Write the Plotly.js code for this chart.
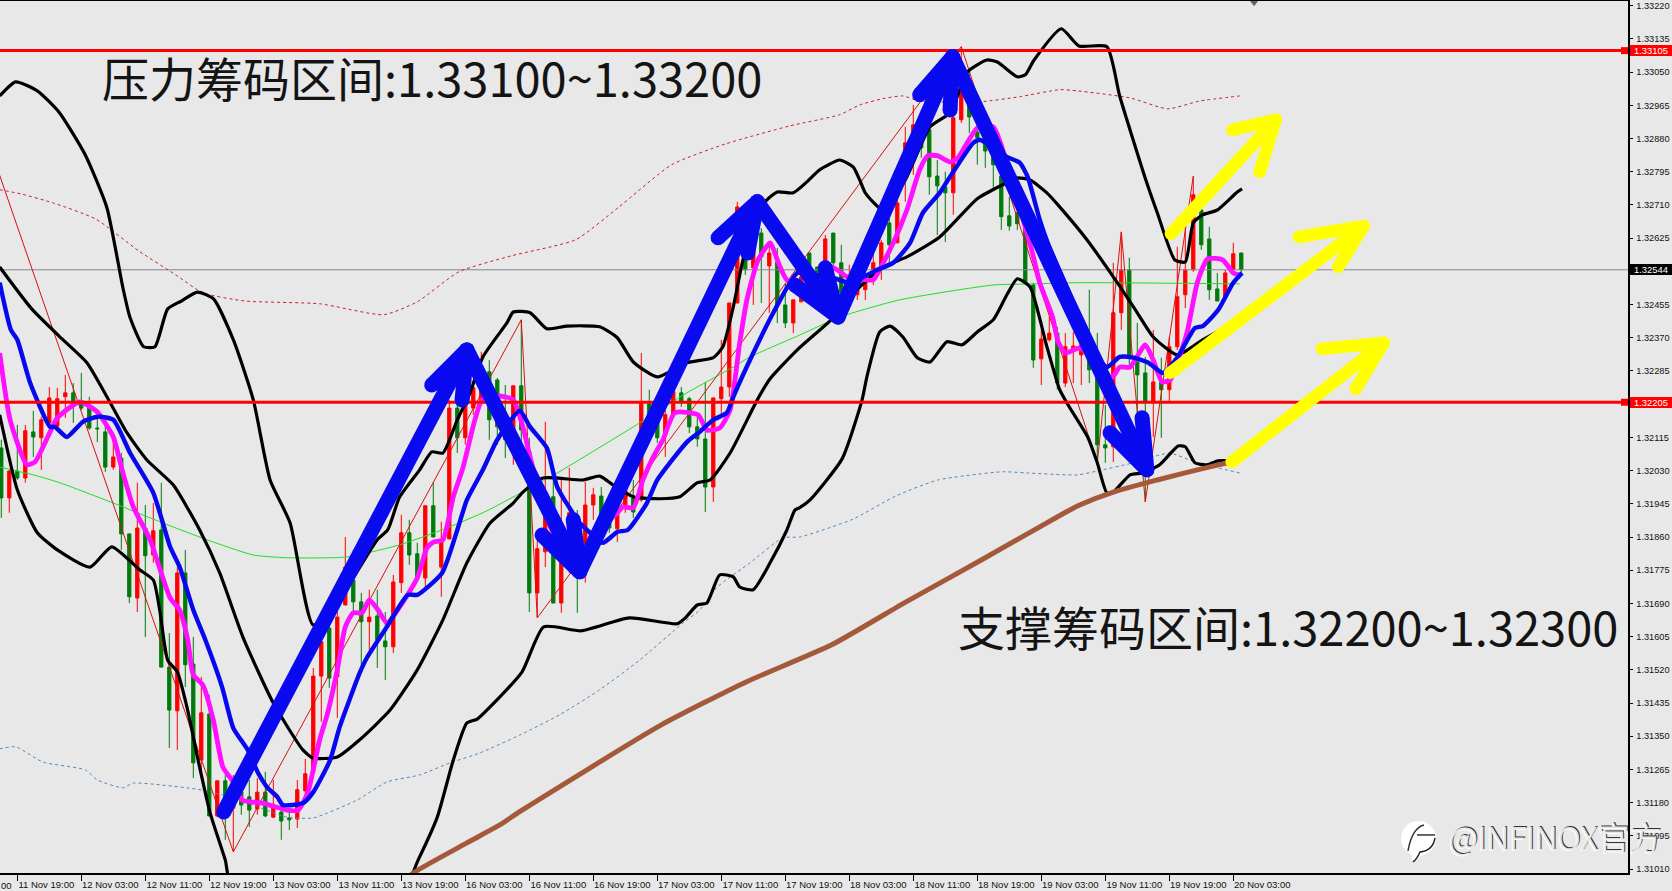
<!DOCTYPE html>
<html><head><meta charset="utf-8">
<script src="https://cdn.plot.ly/plotly-3.0.1.min.js"></script>
<style>html,body{margin:0;padding:0;background:#e8e8e8}#c{width:1672px;height:891px}</style>
</head><body><div id="c"></div><script>
const opens=[1.32088,1.31960,1.32029,1.32011,1.32129,1.32114,1.32152,1.32144,1.32219,1.32229,1.32203,1.32190,1.32139,1.32129,1.32039,1.32062,1.31868,1.31704,1.31883,1.31814,1.31878,1.31527,1.31415,1.31768,1.31535,1.31289,1.31407,1.31146,1.31236,1.31166,1.31207,1.31195,1.31164,1.31207,1.31143,1.31156,1.31141,1.31138,1.31210,1.31259,1.31504,1.31627,1.31502,1.31686,1.31750,1.31694,1.31643,1.31658,1.31594,1.31579,1.31743,1.31871,1.31817,1.31755,1.31940,1.31783,1.31855,1.32190,1.32114,1.32190,1.32211,1.32283,1.32262,1.32147,1.32134,1.32247,1.32078,1.31717,1.31822,1.31963,1.31691,1.31801,1.31912,1.31840,1.31942,1.31965,1.31922,1.31881,1.31937,1.31960,1.31955,1.32201,1.32160,1.32121,1.32173,1.32229,1.32214,1.32142,1.32111,1.31988,1.32214,1.32244,1.32459,1.32646,1.32549,1.32638,1.32554,1.32564,1.32454,1.32408,1.32462,1.32587,1.32551,1.32557,1.32638,1.32562,1.32475,1.32480,1.32493,1.32544,1.32549,1.32664,1.32613,1.32782,1.32877,1.32902,1.32902,1.32784,1.32756,1.32741,1.32928,1.33022,1.32897,1.32869,1.32859,1.32784,1.32682,1.32690,1.32654,1.32505,1.32316,1.32365,1.32382,1.32254,1.32336,1.32326,1.32365,1.32288,1.32096,1.32091,1.32434,1.32544,1.32308,1.32280,1.32206,1.32257,1.32237,1.32347,1.32480,1.32544,1.32697,1.32623,1.32495,1.32475,1.32544,1.32587];
const highs=[1.32109,1.32032,1.32147,1.32147,1.32183,1.32168,1.32244,1.32242,1.32275,1.32254,1.32280,1.32219,1.32173,1.32160,1.32116,1.32075,1.31868,1.31999,1.31942,1.31947,1.31999,1.31614,1.31783,1.31827,1.31604,1.31502,1.31456,1.31236,1.31251,1.31251,1.31259,1.31238,1.31243,1.31259,1.31238,1.31179,1.31161,1.31238,1.31292,1.31525,1.31609,1.31648,1.31745,1.31860,1.31827,1.31717,1.31725,1.31725,1.31668,1.31763,1.31917,1.31904,1.31845,1.31940,1.31999,1.31899,1.32211,1.32211,1.32229,1.32262,1.32334,1.32313,1.32267,1.32249,1.32247,1.32416,1.32114,1.31865,1.32155,1.32024,1.32006,1.32037,1.31929,1.32001,1.31986,1.31988,1.31963,1.31947,1.32006,1.32006,1.32331,1.32237,1.32193,1.32203,1.32232,1.32244,1.32219,1.32168,1.32257,1.32216,1.32365,1.32459,1.32718,1.32667,1.32659,1.32651,1.32613,1.32600,1.32510,1.32467,1.32587,1.32587,1.32551,1.32633,1.32638,1.32608,1.32557,1.32544,1.32557,1.32595,1.32621,1.32677,1.32800,1.32910,1.32966,1.32928,1.32915,1.32825,1.32795,1.32946,1.33115,1.33056,1.32928,1.32894,1.32902,1.32792,1.32731,1.32710,1.32672,1.32510,1.32390,1.32424,1.32398,1.32382,1.32385,1.32382,1.32493,1.32382,1.32198,1.32562,1.32641,1.32575,1.32408,1.32321,1.32390,1.32319,1.32372,1.32603,1.32672,1.32784,1.32700,1.32654,1.32536,1.32544,1.32613,1.32587];
const lows=[1.31909,1.31922,1.32006,1.31999,1.32065,1.32032,1.32147,1.32142,1.32165,1.32152,1.32185,1.32134,1.32103,1.32027,1.32032,1.31827,1.31691,1.31668,1.31604,1.31794,1.31527,1.31320,1.31315,1.31476,1.31243,1.31259,1.31146,1.31143,1.31085,1.31054,1.31149,1.31118,1.31149,1.31143,1.31141,1.31085,1.31110,1.31115,1.31195,1.31259,1.31387,1.31474,1.31397,1.31686,1.31668,1.31525,1.31571,1.31525,1.31494,1.31563,1.31717,1.31789,1.31750,1.31732,1.31860,1.31707,1.31855,1.32075,1.32096,1.32173,1.32203,1.32109,1.32096,1.32062,1.32045,1.32096,1.31668,1.31653,1.31783,1.31691,1.31666,1.31768,1.31666,1.31743,1.31904,1.31840,1.31871,1.31847,1.31922,1.31909,1.31950,1.32109,1.32101,1.32065,1.32173,1.32193,1.32126,1.32091,1.31924,1.31950,1.32173,1.32219,1.32459,1.32531,1.32454,1.32459,1.32434,1.32408,1.32395,1.32382,1.32462,1.32505,1.32480,1.32544,1.32518,1.32459,1.32454,1.32467,1.32467,1.32505,1.32518,1.32562,1.32613,1.32718,1.32787,1.32831,1.32736,1.32633,1.32615,1.32685,1.32920,1.32894,1.32813,1.32805,1.32754,1.32646,1.32644,1.32646,1.32510,1.32293,1.32249,1.32360,1.32237,1.32244,1.32254,1.32249,1.32254,1.32050,1.32050,1.32052,1.32390,1.32296,1.32178,1.31950,1.32116,1.32114,1.32206,1.32339,1.32446,1.32539,1.32595,1.32467,1.32464,1.32475,1.32531,1.32531];
const closes=[1.31960,1.32029,1.32011,1.32132,1.32116,1.32160,1.32216,1.32214,1.32229,1.32206,1.32190,1.32139,1.32137,1.32039,1.32065,1.31868,1.31707,1.31883,1.31812,1.31876,1.31527,1.31417,1.31768,1.31533,1.31282,1.31410,1.31146,1.31236,1.31154,1.31213,1.31174,1.31161,1.31207,1.31146,1.31166,1.31133,1.31136,1.31213,1.31254,1.31504,1.31592,1.31499,1.31655,1.31783,1.31694,1.31643,1.31655,1.31597,1.31579,1.31745,1.31871,1.31814,1.31755,1.31940,1.31860,1.31853,1.32190,1.32114,1.32211,1.32242,1.32249,1.32160,1.32142,1.32109,1.32247,1.32134,1.31717,1.31830,1.31922,1.31691,1.31806,1.31922,1.31758,1.31942,1.31968,1.31871,1.31883,1.31922,1.31981,1.31924,1.32203,1.32142,1.32114,1.32173,1.32232,1.32208,1.32142,1.32111,1.31988,1.32216,1.32244,1.32459,1.32705,1.32544,1.32608,1.32577,1.32587,1.32454,1.32408,1.32467,1.32526,1.32526,1.32505,1.32623,1.32562,1.32485,1.32523,1.32518,1.32531,1.32562,1.32613,1.32608,1.32715,1.32869,1.32915,1.32856,1.32782,1.32759,1.32741,1.32933,1.32997,1.32935,1.32882,1.32848,1.32813,1.32680,1.32656,1.32662,1.32510,1.32313,1.32367,1.32382,1.32254,1.32347,1.32349,1.32352,1.32288,1.32096,1.32088,1.32434,1.32544,1.32319,1.32275,1.32206,1.32257,1.32237,1.32347,1.32475,1.32544,1.32736,1.32608,1.32493,1.32464,1.32536,1.32585,1.32544];

const upperBars=[-0.2,1.8,4.5,7.2,10.5,13.2,15.2,16.1,17.8,19.2,20.8,22.5,24.5,26.5,29,31.5,33.6,36.1,39,43,47,48.3,49.8,52.3,53.8,55.2,57,58.6,60.2,63.2,64,66.1,68.2,70.7,74.8,77,79,82,85.7,89,90.2,91.5,92.7,94.5,95.7,97,99,100.7,102.3,104.8,106.5,107.3,108,110.2,113,116.1,118.6,120.8,123.2,124.5,127,128,129.1,132.5,134.7,138.2,139.8,143.1,144.5,146.7,148,149,150.2,152,154.5,155.1];
const upperPrices=[1.32989,1.33025,1.33002,1.32948,1.32838,1.32703,1.32498,1.32421,1.32347,1.32347,1.32444,1.32464,1.32487,1.32470,1.32365,1.32211,1.32006,1.31896,1.31635,1.31725,1.31853,1.31878,1.31963,1.32032,1.32078,1.32075,1.32160,1.32229,1.32321,1.32408,1.32436,1.32434,1.32393,1.32400,1.32398,1.32370,1.32308,1.32270,1.32306,1.32319,1.32347,1.32449,1.32569,1.32690,1.32723,1.32743,1.32741,1.32769,1.32800,1.32825,1.32807,1.32774,1.32741,1.32697,1.32774,1.32910,1.32946,1.33051,1.33081,1.33076,1.33038,1.33043,1.33081,1.33161,1.33117,1.33115,1.32989,1.32772,1.32690,1.32569,1.32564,1.32664,1.32685,1.32697,1.32743,1.32751];
const middleBars=[-0.2,3.8,7.7,10.7,13.2,15.7,18.2,21.5,24.8,27.3,30.2,34,37.7,39,42,44.8,48.6,52,55.2,58.2,61.1,64,65.2,67.7,72.7,74.8,76.5,79,82.3,84.8,87,88.6,91.1,94.5,96.1,99.5,104,107.3,110.2,113.2,117.3,122,125.1,127,128.6,130.7,132.3,135.7,139.5,142,144,147,150.2,155.1];
const middlePrices=[1.32551,1.32444,1.32365,1.32306,1.32219,1.32127,1.32057,1.31993,1.31878,1.31768,1.31604,1.31435,1.31315,1.31294,1.31297,1.31341,1.31417,1.31520,1.31648,1.31794,1.31896,1.31947,1.31975,1.32011,1.32006,1.32016,1.31993,1.31963,1.31958,1.31963,1.31999,1.32006,1.32075,1.32211,1.32265,1.32339,1.32421,1.32500,1.32551,1.32577,1.32628,1.32726,1.32761,1.32779,1.32774,1.32741,1.32705,1.32621,1.32511,1.32434,1.32372,1.32326,1.32365,1.32421];
const lowerBars=[-0.2,2,4.5,7,11.1,13.8,17.3,19,19.8,20.8,22,23.2,24.6,26.1,28,28.8,50.5,52.1,54.5,56.5,58.2,59.5,61.1,65.1,67.8,72.5,78.5,84.5,85.5,87,88.2,89.8,91.5,92.3,94,96.1,98.2,99.2,99.8,101.1,105.1,107.6,108.2,109.8,111.1,112.7,114.5,116.1,118.2,120.1,122,124,125.7,127,128.6,130.7,132.3,133.2,135.8,137,138.2,139,141.1,142.7,144.8,147.1,148,149.2,150.7,152.1,153.9];
const lowerPrices=[1.32173,1.31981,1.31871,1.31827,1.31783,1.31835,1.31776,1.31750,1.31673,1.31545,1.31515,1.31425,1.31289,1.31154,1.31033,1.30969,1.30969,1.31033,1.31143,1.31289,1.31384,1.31394,1.31425,1.31515,1.31630,1.31620,1.31653,1.31638,1.31653,1.31686,1.31691,1.31763,1.31758,1.31732,1.31725,1.31794,1.31878,1.31929,1.31935,1.31955,1.32060,1.32211,1.32270,1.32385,1.32400,1.32372,1.32319,1.32308,1.32360,1.32352,1.32385,1.32416,1.32480,1.32521,1.32500,1.32347,1.32237,1.32203,1.32116,1.32050,1.31973,1.31975,1.32019,1.32024,1.32045,1.32093,1.32091,1.32050,1.32045,1.32055,1.32055];
const magentaBars=[-0.2,1.1,3.2,4.2,6.1,7,9.8,12,14,15.2,16.5,18.6,21.1,22.3,23.3,24,25.2,26.5,27.7,29,30.1,32.7,35.7,37.1,38.3,39.8,40.8,42,43,44,45.1,46,47.1,48.2,49.8,52,53.2,54,55.2,56.5,57.7,59.2,60.1,62.3,64,65.2,66.1,69,72.4,74.8,77,77.7,79,80.2,81.5,82.7,84.2,87.1,88.2,89.8,91.1,92.3,93.2,94.6,96.1,97.1,98.2,101.1,103.8,105.7,106.5,109,109.9,111.5,113.2,114.8,115.8,117,118.6,119.6,120.8,122,124,124.9,127,128.9,129.8,131.4,132.1,133,134.8,137.3,138.8,139.8,141.1,143,144,145.1,146.1,148.2,149.5,150.8,152.7,154,154.8];
const magentaPrices=[1.32331,1.32160,1.32045,1.32052,1.32129,1.32165,1.32206,1.32180,1.32116,1.32024,1.31937,1.31853,1.31704,1.31673,1.31597,1.31507,1.31481,1.31392,1.31271,1.31233,1.31187,1.31179,1.31161,1.31161,1.31205,1.31341,1.31410,1.31520,1.31630,1.31666,1.31666,1.31699,1.31673,1.31640,1.31681,1.31755,1.31832,1.31847,1.31853,1.31963,1.32037,1.32160,1.32211,1.32221,1.32211,1.32142,1.32065,1.31871,1.31827,1.31878,1.31922,1.31937,1.31935,1.32006,1.32065,1.32109,1.32178,1.32173,1.32134,1.32139,1.32185,1.32357,1.32467,1.32569,1.32613,1.32564,1.32518,1.32505,1.32551,1.32526,1.32523,1.32518,1.32549,1.32613,1.32697,1.32800,1.32836,1.32836,1.32820,1.32831,1.32871,1.32907,1.32910,1.32869,1.32723,1.32587,1.32511,1.32424,1.32360,1.32331,1.32344,1.32301,1.32267,1.32295,1.32295,1.32352,1.32313,1.32257,1.32262,1.32382,1.32511,1.32572,1.32569,1.32536,1.32531];
const blueBars=[-0.2,1.2,2,3.6,6.1,6.7,8.2,10.2,12.1,14,16.1,19,21.1,22.3,24,25.5,27.6,29,30.8,32.1,33.3,34.5,35.2,37.7,39,41.1,42.3,44.8,45.7,48.2,50.8,52,55.1,57,58.2,60.2,62,64.8,66.1,68.2,69.5,72.3,73.6,75.2,77,78.3,80.7,82,85.7,87.3,89,90.7,91.5,94,96.5,99.5,101.7,104,106.1,109.5,111.5,113.6,115.2,117.3,118.9,121.5,122.3,125.7,127.3,128.3,129.8,130.8,133.6,136.1,138.2,139.8,141.5,143.4,145.2,147,149.2,150.2,152.1,154,155.1];
const bluePrices=[1.32511,1.32390,1.32365,1.32255,1.32142,1.32142,1.32116,1.32155,1.32168,1.32160,1.32075,1.31973,1.31835,1.31783,1.31673,1.31597,1.31476,1.31371,1.31315,1.31256,1.31218,1.31195,1.31174,1.31179,1.31207,1.31289,1.31374,1.31512,1.31551,1.31630,1.31712,1.31712,1.31768,1.31878,1.31955,1.32032,1.32109,1.32183,1.32142,1.32088,1.31988,1.31896,1.31871,1.31845,1.31873,1.31878,1.31947,1.32006,1.32103,1.32129,1.32160,1.32178,1.32219,1.32331,1.32434,1.32536,1.32531,1.32523,1.32511,1.32544,1.32562,1.32613,1.32690,1.32741,1.32792,1.32869,1.32877,1.32833,1.32818,1.32782,1.32672,1.32613,1.32480,1.32352,1.32295,1.32321,1.32319,1.32306,1.32280,1.32319,1.32395,1.32400,1.32441,1.32511,1.32536];
const greenBars=[-0.2,4,7.3,14,20.2,25.7,31.5,35.7,43.2,49.8,55.7,60.7,66.1,69.5,79.8,85.7,91.5,93.6,99.8,104.8,112.3,124,129,134.8,154.8];
const greenPrices=[1.32039,1.32019,1.31999,1.31947,1.31896,1.31853,1.31814,1.31807,1.31809,1.31840,1.31883,1.31927,1.31986,1.32024,1.32152,1.32229,1.32295,1.32321,1.32377,1.32423,1.32467,1.32505,1.32508,1.32511,1.32508];
const dotBlueBars=[-0.2,1.8,5.2,10.5,12,15.2,16.5,23.2,25.7,29.8,35.7,39,44.5,48.2,52.3,56.1,59.8,64.8,69.8,74.8,79.8,85.1,87.3,89.5,93.6,97.7,99.8,106.5,111.8,117.1,125.1,128.2,134.5,137,141.5,144.8,146.1,149.5,154.8];
const dotBluePrices=[1.31318,1.31323,1.31284,1.31264,1.31238,1.31218,1.31230,1.31218,1.31210,1.31187,1.31143,1.31141,1.31187,1.31233,1.31251,1.31282,1.31307,1.31353,1.31405,1.31469,1.31545,1.31638,1.31673,1.31732,1.31794,1.31858,1.31860,1.31906,1.31965,1.32006,1.32027,1.32024,1.32019,1.32029,1.32050,1.32070,1.32075,1.32050,1.32024];
const dotRedBars=[-0.2,2.5,6.5,11.8,17.2,21.8,25.2,30.5,39.8,47.8,52,57.2,63.8,71.8,77.1,83.8,90.5,98.5,104.8,107.3,110.2,112.7,114.8,122.3,127.3,132.3,134.5,141.1,145.8,149.8,154.8];
const dotRedPrices=[1.32749,1.32738,1.32715,1.32674,1.32592,1.32531,1.32485,1.32464,1.32457,1.32429,1.32462,1.32539,1.32580,1.32621,1.32703,1.32813,1.32866,1.32912,1.32941,1.32966,1.32982,1.32989,1.32976,1.32974,1.32987,1.33005,1.33002,1.32984,1.32956,1.32976,1.32989];
const brownBars=[49.2,51.5,58.2,62.3,65.1,82.5,93.1,103.8,113.1,122.5,133.1,134.8,139,144.5,149.5,153.3,153.8];
const brownPrices=[1.30957,1.31000,1.31077,1.31123,1.31161,1.31379,1.31489,1.31584,1.31694,1.31801,1.31924,1.31942,1.31975,1.32006,1.32032,1.32050,1.32052];
const zigzagBars=[-1,29,65,67,120,137,140,143,149];
const zigzagPrices=[1.32833,1.31054,1.32416,1.31653,1.33115,1.32050,1.32641,1.31950,1.32784];

const blueArrowBars=[27.8,58.2,null,53.8,58.2,57.6,null,58.2,72.3,null,67.6,72.3,71.5,null,72.3,94.5,null,89.6,94.5,93.3,null,94.5,104.6,null,99.2,104.6,103,null,104.6,118.9,null,114.8,118.9,118.6,null,118.9,143.2,null,138.6,143.2,142.6];
const blueArrowPrices=[1.31156,1.32339,null,1.32249,1.32339,1.32211,null,1.32339,1.31771,null,1.31865,1.31771,1.31904,null,1.31771,1.32718,null,1.32626,1.32718,1.32587,null,1.32718,1.32423,null,1.32505,1.32423,1.32549,null,1.32423,1.33089,null,1.32992,1.33089,1.32953,null,1.33089,1.32032,null,1.32127,1.32032,1.32165];
const yellowArrowBars=[146.2,159.3,null,153.9,159.3,157.3,null,146.1,170.3,null,162.2,170.3,167.1,null,153.8,172.8,null,165.1,172.8,169.3];
const yellowArrowPrices=[1.32636,1.32928,null,1.32902,1.32928,1.32795,null,1.32280,1.32656,null,1.32628,1.32656,1.32551,null,1.32052,1.32357,null,1.32342,1.32357,1.32239];

const supportLevel=1.32205, resistanceLevel=1.33105, lastPrice=1.32544;
const bars=opens.map((_,i)=>i);
const xTickBars=[2,10,18,26,34,42,50,58,66,74,82,90,98,106,114,122,130,138,146,154];
const xTickLabels=["11 Nov 19:00","12 Nov 03:00","12 Nov 11:00","12 Nov 19:00","13 Nov 03:00","13 Nov 11:00","13 Nov 19:00","16 Nov 03:00","16 Nov 11:00","16 Nov 19:00","17 Nov 03:00","17 Nov 11:00","17 Nov 19:00","18 Nov 03:00","18 Nov 11:00","18 Nov 19:00","19 Nov 03:00","19 Nov 11:00","19 Nov 19:00","20 Nov 03:00"];
const yTickValues=[1.33220,1.33135,1.33050,1.32965,1.32880,1.32795,1.32710,1.32625,1.32540,1.32455,1.32370,1.32285,1.32200,1.32115,1.32030,1.31945,1.31860,1.31775,1.31690,1.31605,1.31520,1.31435,1.31350,1.31265,1.31180,1.31095,1.31010];
const yTickLabels=yTickValues.map(v=>v.toFixed(5));
const resistanceText="压力筹码区间:1.33100~1.33200";
const supportText="支撑筹码区间:1.32200~1.32300";
const watermarkText="@INFINOX官方";

const BG="#e8e8e8";
const line=(x,y,color,width,dash)=>({type:"scatter",mode:"lines",x,y,hoverinfo:"skip",line:{color,width,dash:dash||"solid",shape:"linear"}});
const curve=(x,y,color,width,dash)=>({type:"scatter",mode:"lines",x,y,hoverinfo:"skip",line:{color,width,dash:dash||"solid",shape:"spline",smoothing:0.55}});
const arrow=(x,y,color,width)=>({type:"scatter",mode:"lines+markers",x,y,hoverinfo:"skip",connectgaps:false,line:{color,width},marker:{color,size:width,line:{width:0}}});

const traces=[
 {type:"candlestick",x:bars,open:opens,high:highs,low:lows,close:closes,hoverinfo:"skip",whiskerwidth:0,
  increasing:{line:{color:"#ff0000",width:1},fillcolor:"#ff0000"},
  decreasing:{line:{color:"#007a0a",width:1},fillcolor:"#007a0a"}},
 line([-1,204],[lastPrice,lastPrice],"#808890",1),
 curve(greenBars,greenPrices,"#22dd22",1),
 curve(dotBlueBars,dotBluePrices,"#4f86b8",1,"3px,3px"),
 curve(dotRedBars,dotRedPrices,"#c8202a",1,"3px,3px"),
 line(zigzagBars,zigzagPrices,"#d81010",1),
 curve(upperBars,upperPrices,"#000000",3.2),
 curve(middleBars,middlePrices,"#000000",3.2),
 curve(lowerBars,lowerPrices,"#000000",3.2),
 curve(brownBars,brownPrices,"#a4593a",5),
 curve(magentaBars,magentaPrices,"#ff10ff",4.8),
 curve(blueBars,bluePrices,"#0808f0",4.4),
 line([-1,204],[resistanceLevel,resistanceLevel],"#ff0000",3),
 line([-1,204],[supportLevel,supportLevel],"#ff0000",3),
 {type:"scatter",mode:"markers",x:[202.9,202.9],y:[resistanceLevel,supportLevel],hoverinfo:"skip",marker:{symbol:"square",color:"#ff0000",size:7}},
 arrow(blueArrowBars,blueArrowPrices,"#0a0af0",15),
 arrow(yellowArrowBars,yellowArrowPrices,"#ffff00",12.5),
 {type:"scatter",mode:"markers",x:[156.6],y:[1.33230],hoverinfo:"skip",cliponaxis:true,marker:{symbol:"triangle-down",color:"#56666e",size:9}}
];

const xp=px=>(px-1.3)/8, yp=py=>1.33235-py*0.0000256;
const P=(c)=>c.replace(/(-?[\d.]+) (-?[\d.]+)/g,(m,a,b)=>xp(+a)+","+yp(+b));
const box=(y,text,bg)=>({xref:"paper",yref:"y",x:1,y,xanchor:"left",yanchor:"middle",xshift:2,showarrow:false,text,width:42,height:11,align:"center",bgcolor:bg,borderpad:0,borderwidth:0,font:{family:"Liberation Sans",size:9.4,color:"#ffffff"}});
const mark=(dx,dy,color)=>({xref:"x",yref:"y",x:xp(1447),y:yp(836),xanchor:"left",yanchor:"middle",xshift:dx,yshift:dy,showarrow:false,text:watermarkText,font:{family:"Noto Sans CJK SC",size:32,color,weight:300}});

const layout={
 width:1672,height:891,autosize:false,showlegend:false,hovermode:false,dragmode:false,
 paper_bgcolor:BG,plot_bgcolor:BG,boxgap:0.42,
 margin:{l:0,r:44,t:1,b:18,pad:0},
 font:{family:"Liberation Sans",color:"#111"},
 xaxis:{type:"linear",range:[-0.1625,203.34],rangeslider:{visible:false},tickmode:"array",tickvals:xTickBars,ticktext:xTickLabels,
  ticks:"outside",ticklen:6,tickwidth:1,tickcolor:"#000",showgrid:false,zeroline:false,showline:true,linecolor:"#000",linewidth:1.5,mirror:true,
  tickangle:0,ticklabelshift:29,ticklabelstandoff:-4,tickfont:{family:"Liberation Sans",size:9.5,color:"#111"}},
 yaxis:{type:"linear",side:"right",range:[1.31000,1.33232],tickmode:"array",tickvals:yTickValues,ticktext:yTickLabels,
  ticks:"outside",ticklen:3,tickwidth:1,tickcolor:"#000",showgrid:false,zeroline:false,showline:true,linecolor:"#000",linewidth:1.5,
  ticklabelstandoff:2,tickfont:{family:"Liberation Sans",size:9.2,color:"#111"}},
 shapes:[
  {type:"circle",xref:"x",yref:"y",x0:xp(1401),x1:xp(1436),y0:yp(821),y1:yp(856),fillcolor:"#ffffff",line:{width:0},layer:"above"},
  {type:"path",xref:"x",yref:"y",path:"M"+P("1412 852")+" Q"+P("1411 860")+" "+P("1413 862")+" Q"+P("1420 858")+" "+P("1424 853")+" Z",fillcolor:"#ffffff",line:{width:0},layer:"above"},
  {type:"path",xref:"x",yref:"y",path:"M"+P("1435 838")+" Q"+P("1433 851")+" "+P("1420 852")+" Q"+P("1417 859")+" "+P("1413 862"),line:{color:"#222",width:1.5},layer:"above"},
  {type:"path",xref:"x",yref:"y",path:"M"+P("1424 825")+" Q"+P("1412 828")+" "+P("1408 851"),line:{color:"#333",width:1.5},layer:"above"},
  {type:"path",xref:"x",yref:"y",path:"M"+P("1417 835")+" L"+P("1435 835"),line:{color:"#333",width:1.5},layer:"above"}
 ],
 annotations:[
  {xref:"x",yref:"y",x:xp(100),y:yp(77),xanchor:"left",yanchor:"middle",showarrow:false,text:resistanceText,font:{family:"Noto Sans CJK SC",size:47,color:"#141414"}},
  {xref:"x",yref:"y",x:xp(956),y:yp(626),xanchor:"left",yanchor:"middle",showarrow:false,text:supportText,font:{family:"Noto Sans CJK SC",size:47,color:"#141414"}},
  box(resistanceLevel,resistanceLevel.toFixed(5),"#ff0000"),
  box(supportLevel,supportLevel.toFixed(5),"#ff0000"),
  box(lastPrice,lastPrice.toFixed(5),"#000000"),
  {xref:"paper",yref:"paper",x:0,y:0,xanchor:"left",yanchor:"top",yshift:-5,xshift:-1,showarrow:false,text:"00",font:{family:"Liberation Sans",size:9.5,color:"#111"}},
  mark(1,1,"#333333"),mark(-1,-1,"#ffffff"),mark(0,0,"#e4e4e4")
 ]
};
Plotly.newPlot("c",traces,layout,{displayModeBar:false,staticPlot:true});
</script></body></html>
